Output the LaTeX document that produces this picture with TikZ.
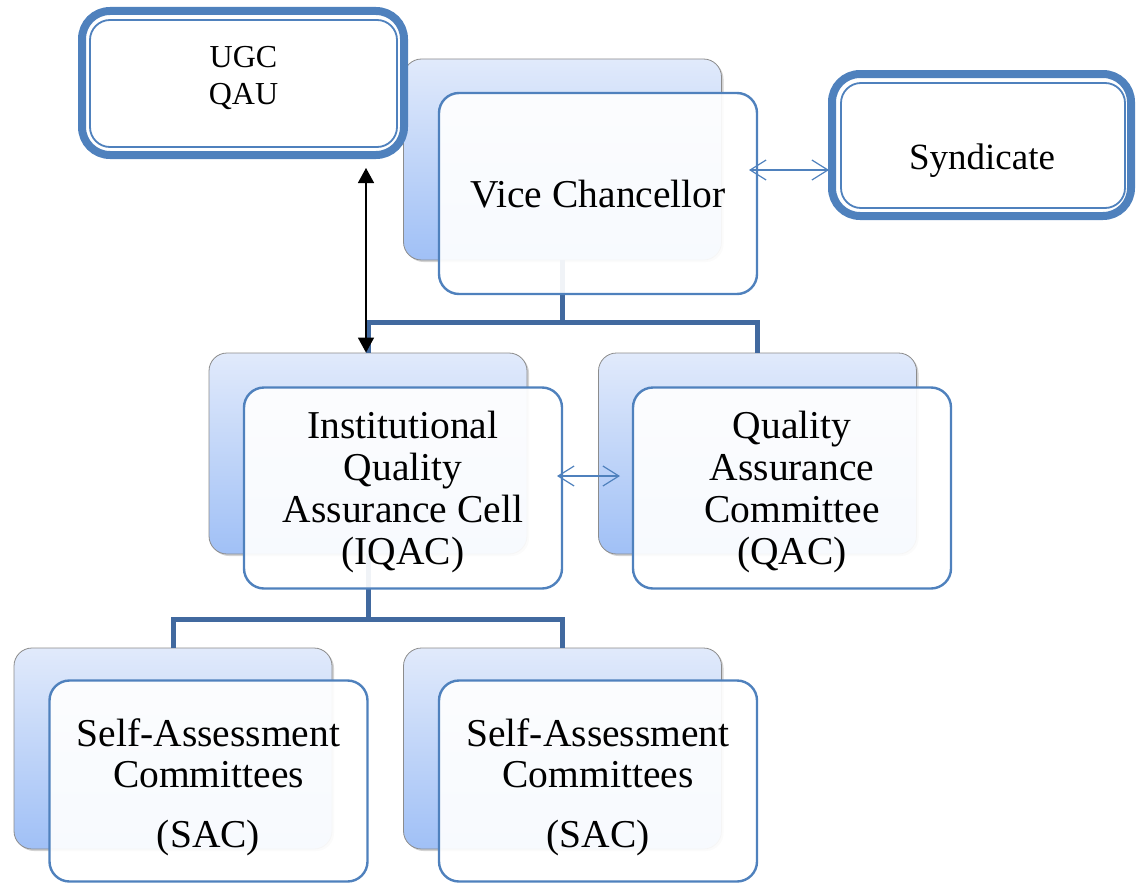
\documentclass[tikz,border=0pt]{standalone}
\usepackage{fontspec}
\setmainfont{Liberation Serif}
\usetikzlibrary{arrows.meta,shadows}
\definecolor{frame}{HTML}{4F81BD}
\definecolor{conncol}{HTML}{41699F}
\definecolor{backtop}{HTML}{E1EAFB}
\definecolor{backbot}{HTML}{A0C0F6}
\definecolor{backedge}{HTML}{8C8C8C}
\begin{document}
\begin{tikzpicture}[x=1pt,y=-1pt,
  backbox/.style={rectangle, rounded corners=18pt, minimum width=318pt, minimum height=201pt,
    draw=backedge, line width=0.8pt, top color=backtop, bottom color=backbot,
    drop shadow={shadow xshift=2pt, shadow yshift=-2pt, opacity=0.35}},
  frontbox/.style={rectangle, rounded corners=20pt, minimum width=318pt, minimum height=201pt,
    draw=frame, line width=2.4pt, fill=white, fill opacity=0.92},
  dblout/.style={rectangle, rounded corners=28pt, draw=frame, line width=8pt, fill=white},
  dblin/.style={rectangle, rounded corners=20pt, draw=frame, line width=1.8pt},
  conn/.style={draw=conncol, line width=5pt},
  txt/.style={inner sep=0pt, align=center, font=\fontsize{39.5}{42}\selectfont},
  bluearrow/.style={draw=frame, line width=1.2pt,
    {Straight Barb[length=16pt,width=20pt]}-{Straight Barb[length=16pt,width=20pt]}},
  blackarrow/.style={draw=black, line width=1.5pt,
    {Triangle[length=15pt,width=16pt]}-{Triangle[length=15pt,width=16pt]}}
]
\useasboundingbox (0,0) rectangle (1137,883);

% back boxes
\node[backbox] (vcb) at (562.5,159.5) {};
\node[backbox] (iqb) at (368,453.5) {};
\node[backbox] (qab) at (757.5,453.5) {};
\node[backbox] (s1b) at (173,748.5) {};
\node[backbox] (s2b) at (562.5,748.5) {};

% tree connectors
\coordinate (j1) at (562.5,322);
\coordinate (j2) at (368,619);
\draw[conn] (vcb.south) -- (j1);
\draw[conn] (iqb.north) |- (j1) -| (qab.north);
\draw[conn] (iqb.south) -- (j2);
\draw[conn] (s1b.north) |- (j2) -| (s2b.north);

% front boxes
\node[frontbox] (vcf) at (598,193.5) {};
\node[frontbox] (iqf) at (403,488) {};
\node[frontbox] (qaf) at (792,488) {};
\node[frontbox] (s1f) at (208.5,781) {};
\node[frontbox] (s2f) at (598,781) {};

% double-border boxes
\node[dblout, minimum width=322pt, minimum height=144pt] (ugc) at (243,83) {};
\node[dblin, minimum width=307pt, minimum height=127pt] (ugcin) at (243.5,83.5) {};
\node[dblout, minimum width=299pt, minimum height=142pt] (syn) at (981.5,145) {};
\node[dblin, minimum width=284pt, minimum height=125pt] (synin) at (983,145.5) {};

% texts
\node[inner sep=0pt, align=center, font=\fontsize{32}{37}\selectfont] (ugct) at (243.5,78) {UGC\\QAU};
\node[inner sep=0pt, font=\fontsize{37}{42}\selectfont] (synt) at (982,161) {Syndicate};
\node[txt] (vct) at (598,193.7) {Vice Chancellor};
\node[txt] (iqt) at (403,492) {Institutional\\Quality\\Assurance Cell\\(IQAC)};
\node[txt] (qat) at (792,492) {Quality\\Assurance\\Committee\\(QAC)};
\node[txt, font=\fontsize{39.5}{41}\selectfont] (s1t) at (208.5,787.4) {Self-Assessment\\Committees\\[19pt](SAC)};
\node[txt, font=\fontsize{39.5}{41}\selectfont] (s2t) at (598,787.4) {Self-Assessment\\Committees\\[19pt](SAC)};

% arrows
\coordinate (a1) at (749,170);
\coordinate (a2) at (829,170);
\draw[bluearrow] (a1) -- (a2);
\coordinate (b1) at (557,476);
\coordinate (b2) at (620,476);
\draw[bluearrow] (b1) -- (b2);
\coordinate (u1) at (366,168);
\draw[blackarrow] (u1) -- (u1 |- iqb.north);
\end{tikzpicture}
\end{document}
